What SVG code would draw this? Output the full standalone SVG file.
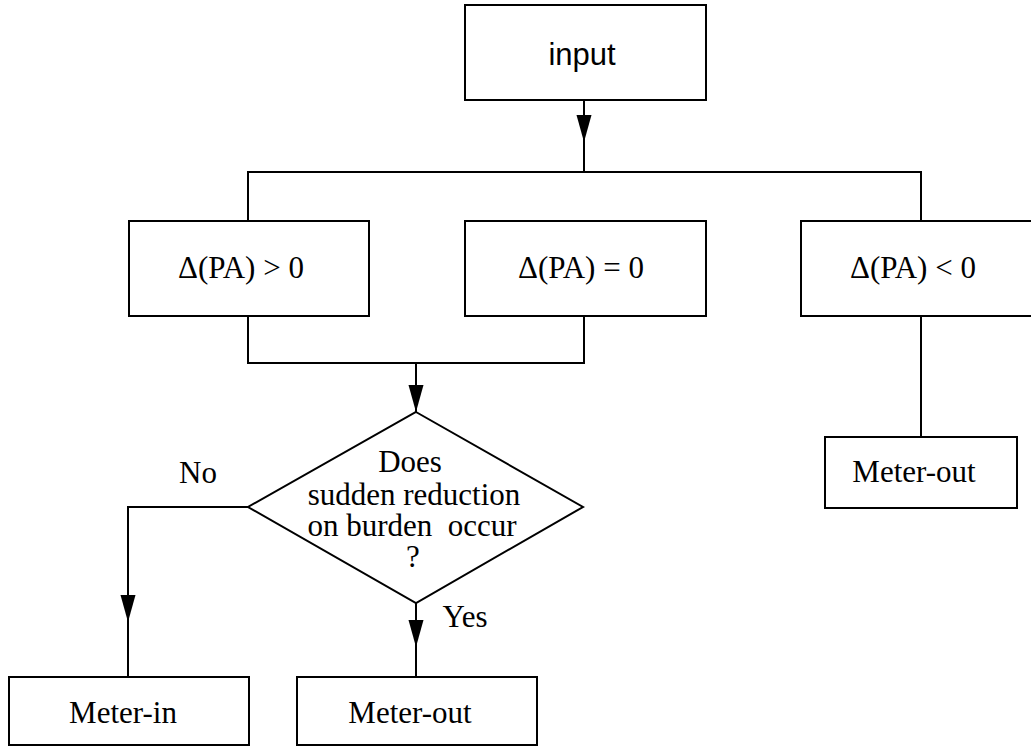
<svg xmlns="http://www.w3.org/2000/svg" xmlns:xlink="http://www.w3.org/1999/xlink" width="1031" height="748" viewBox="0 0 1031 748">
  <style>
    .box { fill: #ffffff; stroke: #000000; stroke-width: 2; }
    .wire { fill: none; stroke: #000000; stroke-width: 2; }
    .serif { font-family: "Liberation Serif", "Times New Roman", serif; font-size: 31px; fill: #000000; text-anchor: middle; }
    .sans { font-family: "Liberation Sans", Arial, sans-serif; font-size: 31px; fill: #000000; text-anchor: middle; }
  </style>
  <defs>
    <!-- downward arrowhead, tip at the origin -->
    <path id="head" d="M0,0 L-7.5,-27 L7.5,-27 Z" fill="#000000"/>
  </defs>
  <rect width="1031" height="748" fill="#ffffff"/>

  <g id="connectors">
    <!-- input to the three branches -->
    <path class="wire" d="M584,100 V172"/>
    <path class="wire" d="M248,221 V172 H921 V221"/>
    <!-- merge of the first two branches into the decision -->
    <path class="wire" d="M248,316 V363 H584 V316"/>
    <path class="wire" d="M416,363 V412"/>
    <!-- negative branch -->
    <path class="wire" d="M921,316 V437"/>
    <!-- decision outcomes -->
    <path class="wire" d="M248,507 H128 V677"/>
    <path class="wire" d="M416,603 V677"/>
    <use xlink:href="#head" x="584" y="142"/>
    <use xlink:href="#head" x="416" y="412"/>
    <use xlink:href="#head" x="128" y="622"/>
    <use xlink:href="#head" x="416" y="647"/>
    <text class="serif" x="198" y="483">No</text>
    <text class="serif" x="465" y="627">Yes</text>
  </g>

  <g id="input">
    <rect class="box" x="465" y="5" width="241" height="95"/>
    <text class="sans" x="582" y="65">input</text>
  </g>

  <g id="pa-positive">
    <rect class="box" x="129" y="221" width="240" height="95"/>
    <text class="serif" x="241" y="278">Δ(PA) &gt; 0</text>
  </g>

  <g id="pa-zero">
    <rect class="box" x="465" y="221" width="241" height="95"/>
    <text class="serif" x="581" y="278">Δ(PA) = 0</text>
  </g>

  <g id="pa-negative">
    <rect class="box" x="801" y="221" width="240" height="95"/>
    <text class="serif" x="913" y="278">Δ(PA) &lt; 0</text>
  </g>

  <g id="meter-out-right">
    <rect class="box" x="825" y="437" width="192" height="71"/>
    <text class="serif" x="914" y="482">Meter-out</text>
  </g>

  <g id="decision">
    <polygon class="box" points="416,412 583,507 416,603 248,507"/>
    <text class="serif" x="410" y="472">Does</text>
    <text class="serif" x="414" y="505">sudden reduction</text>
    <text class="serif" x="412" y="536" style="white-space:pre">on burden  occur</text>
    <text class="serif" x="413" y="567">?</text>
  </g>

  <g id="meter-in">
    <rect class="box" x="9" y="677" width="240" height="68"/>
    <text class="serif" x="123" y="723">Meter-in</text>
  </g>

  <g id="meter-out-left">
    <rect class="box" x="297" y="677" width="240" height="68"/>
    <text class="serif" x="410" y="723">Meter-out</text>
  </g>
</svg>
